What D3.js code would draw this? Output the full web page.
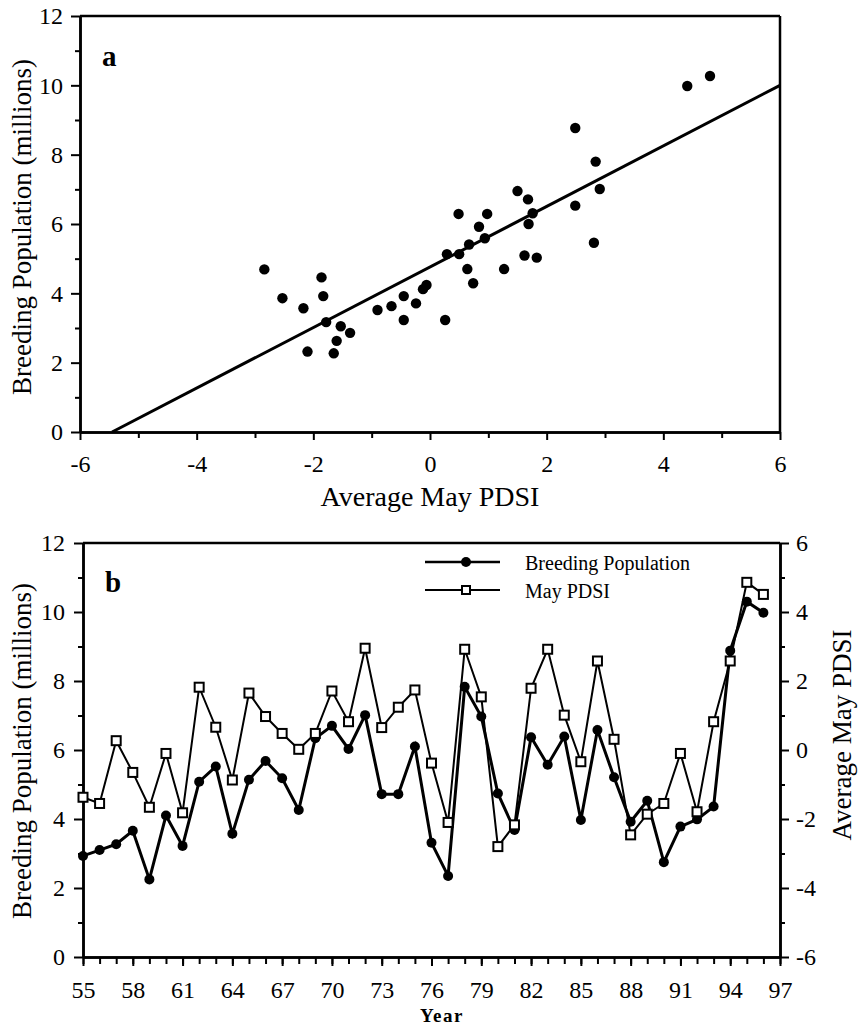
<!DOCTYPE html>
<html>
<head>
<meta charset="utf-8">
<script src="https://cdn.jsdelivr.net/npm/d3@7"></script>
<style>
  body { margin: 0; background: #fff; }
  svg text { font-family: "Liberation Serif", "DejaVu Serif", serif; fill: #000; }
  .axis path, .axis line { stroke: #000; }
</style>
</head>
<body>
<div id="chart"></div>
<script>
const width = 861, height = 1034;

// panel a: scatter of May PDSI vs breeding population
const scatterPdsi = [-2.84, -2.53, -2.17, -2.10, -1.86, -1.83, -1.78, -1.65, -1.60, -1.53, -1.37,
  -0.90, -0.66, -0.45, -0.45, -0.24, -0.12, -0.06, 0.26, 0.29, 0.50, 0.64, 0.67, 0.74, 0.94,
  0.49, 0.98, 0.84, 1.27, 1.62, 1.83, 2.81, 4.41, 4.80, 2.49, 2.84, 2.91, 1.50, 1.68, 1.76, 1.69, 2.49];
const scatterPop = [4.69, 3.86, 3.57, 2.32, 4.46, 3.92, 3.17, 2.27, 2.63, 3.05, 2.86,
  3.52, 3.63, 3.92, 3.23, 3.71, 4.12, 4.24, 3.23, 5.13, 5.13, 4.70, 5.41, 4.29, 5.59,
  6.29, 6.29, 5.92, 4.70, 5.09, 5.03, 5.46, 9.98, 10.27, 8.77, 7.80, 7.01, 6.95, 6.71, 6.31, 6.00, 6.53];
// fitted line end points
const fitPdsi = [-5.45, 6];
const fitPop = [0, 10.0];

// panel b: time series
const years = [55, 56, 57, 58, 59, 60, 61, 62, 63, 64, 65, 66, 67, 68, 69, 70, 71, 72, 73, 74, 75,
  76, 77, 78, 79, 80, 81, 82, 83, 84, 85, 86, 87, 88, 89, 90, 91, 92, 93, 94, 95, 96];
const breedingPop = [2.93, 3.10, 3.27, 3.66, 2.25, 4.10, 3.22, 5.08, 5.52, 3.57, 5.14, 5.68, 5.18, 4.26,
  6.34, 6.70, 6.03, 7.01, 4.72, 4.72, 6.10, 3.31, 2.35, 7.83, 6.97, 4.74, 3.68, 6.37, 5.57, 6.39,
  3.97, 6.58, 5.21, 3.92, 4.53, 2.75, 3.78, 3.99, 4.36, 8.88, 10.30, 9.98];
const mayPdsi = [-1.37, -1.55, 0.27, -0.65, -1.66, -0.10, -1.82, 1.82, 0.66, -0.87, 1.65, 0.97, 0.48, 0.02,
  0.48, 1.71, 0.82, 2.95, 0.65, 1.24, 1.74, -0.38, -2.10, 2.92, 1.54, -2.80, -2.17, 1.79, 2.92, 1.01,
  -0.34, 2.58, 0.31, -2.46, -1.86, -1.55, -0.10, -1.79, 0.82, 2.58, 4.86, 4.51];

const popTicks = [0, 2, 4, 6, 8, 10, 12];
const popMinor = [1, 3, 5, 7, 9, 11];
const pdsiTicksA = [-6, -4, -2, 0, 2, 4, 6];
const pdsiMinorA = [-5, -3, -1, 1, 3, 5];
const yearTicks = [55, 58, 61, 64, 67, 70, 73, 76, 79, 82, 85, 88, 91, 94, 97];
const pdsiTicksB = [-6, -4, -2, 0, 2, 4, 6];
const pdsiMinorB = [-5, -3, -1, 1, 3, 5];

// plain hyphen minus like the original
const plain = d => String(d);

const svg = d3.select("#chart")
  .append("svg")
  .attr("width", width)
  .attr("height", height);

function styleAxis(g, fontSize) {
  g.attr("class", "axis");
  g.select(".domain").attr("stroke-width", 2.5);
  g.selectAll(".tick line").attr("stroke-width", 2);
  g.selectAll(".tick text")
    .attr("font-size", fontSize)
    .attr("font-family", null);
}

// ---------- panel a ----------
const xa = d3.scaleLinear().domain([-6, 6]).range([80, 780]);
const ya = d3.scaleLinear().domain([0, 12]).range([432, 16]);

svg.append("g")
  .attr("transform", `translate(0,${ya(0)})`)
  .call(d3.axisBottom(xa).tickValues(pdsiMinorA).tickFormat("").tickSize(6).tickSizeOuter(0))
  .call(g => styleAxis(g, 24));
svg.append("g")
  .attr("transform", `translate(0,${ya(0)})`)
  .call(d3.axisBottom(xa).tickValues(pdsiTicksA).tickFormat(plain).tickSize(8).tickPadding(15).tickSizeOuter(0))
  .call(g => styleAxis(g, 24));
svg.append("g")
  .attr("transform", `translate(${xa(-6)},0)`)
  .call(d3.axisLeft(ya).tickValues(popMinor).tickFormat("").tickSize(5).tickSizeOuter(0))
  .call(g => styleAxis(g, 24));
svg.append("g")
  .attr("transform", `translate(${xa(-6)},0)`)
  .call(d3.axisLeft(ya).tickValues(popTicks).tickFormat(plain).tickSize(9).tickPadding(8).tickSizeOuter(0))
  .call(g => styleAxis(g, 24));

// box top and right
svg.append("line")
  .attr("x1", xa(-6)).attr("x2", xa(6)).attr("y1", ya(12)).attr("y2", ya(12))
  .attr("stroke", "#000").attr("stroke-width", 2.5);
svg.append("line")
  .attr("x1", xa(6)).attr("x2", xa(6)).attr("y1", ya(12)).attr("y2", ya(0))
  .attr("stroke", "#000").attr("stroke-width", 2.5);

// regression line
svg.append("line")
  .attr("x1", xa(fitPdsi[0])).attr("y1", ya(fitPop[0]))
  .attr("x2", xa(fitPdsi[1])).attr("y2", ya(fitPop[1]))
  .attr("stroke", "#000").attr("stroke-width", 3);

svg.selectAll(".dotA")
  .data(scatterPdsi)
  .enter()
  .append("circle")
  .attr("class", "dotA")
  .attr("cx", d => xa(d))
  .attr("cy", (d, i) => ya(scatterPop[i]))
  .attr("r", 5.2)
  .attr("fill", "#000");

svg.append("text")
  .attr("x", 102).attr("y", 66)
  .attr("font-size", 29).attr("font-weight", "bold")
  .text("a");

svg.append("text")
  .attr("x", 430).attr("y", 506)
  .attr("text-anchor", "middle")
  .attr("font-size", 28)
  .text("Average May PDSI");

svg.append("text")
  .attr("transform", "translate(31,227) rotate(-90)")
  .attr("text-anchor", "middle")
  .attr("font-size", 27)
  .text("Breeding Population (millions)");

// ---------- panel b ----------
const xb = d3.scaleLinear().domain([55, 97]).range([83, 780]);
const yb = d3.scaleLinear().domain([0, 12]).range([957, 543]);
const yr = d3.scaleLinear().domain([-6, 6]).range([957, 543]);

svg.append("g")
  .attr("transform", `translate(0,${yb(0)})`)
  .call(d3.axisBottom(xb).tickValues(d3.range(55, 98)).tickFormat("").tickSize(7).tickSizeOuter(0))
  .call(g => styleAxis(g, 24));
svg.append("g")
  .attr("transform", `translate(0,${yb(0)})`)
  .call(d3.axisBottom(xb).tickValues(yearTicks).tickFormat(plain).tickSize(9).tickPadding(15).tickSizeOuter(0))
  .call(g => styleAxis(g, 24));
svg.append("g")
  .attr("transform", `translate(${xb(55)},0)`)
  .call(d3.axisLeft(yb).tickValues(popMinor).tickFormat("").tickSize(5).tickSizeOuter(0))
  .call(g => styleAxis(g, 24));
svg.append("g")
  .attr("transform", `translate(${xb(55)},0)`)
  .call(d3.axisLeft(yb).tickValues(popTicks).tickFormat(plain).tickSize(9).tickPadding(9).tickSizeOuter(0))
  .call(g => styleAxis(g, 24));
svg.append("g")
  .attr("transform", `translate(${xb(97)},0)`)
  .call(d3.axisRight(yr).tickValues(pdsiMinorB).tickFormat("").tickSize(5).tickSizeOuter(0))
  .call(g => styleAxis(g, 24));
svg.append("g")
  .attr("transform", `translate(${xb(97)},0)`)
  .call(d3.axisRight(yr).tickValues(pdsiTicksB).tickFormat(plain).tickSize(9).tickPadding(7).tickSizeOuter(0))
  .call(g => styleAxis(g, 24));

svg.append("line")
  .attr("x1", xb(55)).attr("x2", xb(97)).attr("y1", yb(12)).attr("y2", yb(12))
  .attr("stroke", "#000").attr("stroke-width", 2.5);

// breeding population line + filled dots
const popLine = d3.line().x((d, i) => xb(years[i])).y(d => yb(d));
svg.append("path")
  .datum(breedingPop)
  .attr("d", popLine)
  .attr("fill", "none").attr("stroke", "#000").attr("stroke-width", 3);
svg.selectAll(".dotB")
  .data(breedingPop)
  .enter()
  .append("circle")
  .attr("class", "dotB")
  .attr("cx", (d, i) => xb(years[i]))
  .attr("cy", d => yb(d))
  .attr("r", 5)
  .attr("fill", "#000");

// May PDSI line + open squares (right axis)
const pdsiLine = d3.line().x((d, i) => xb(years[i])).y(d => yr(d));
svg.append("path")
  .datum(mayPdsi)
  .attr("d", pdsiLine)
  .attr("fill", "none").attr("stroke", "#000").attr("stroke-width", 2);
svg.selectAll(".sqB")
  .data(mayPdsi)
  .enter()
  .append("rect")
  .attr("class", "sqB")
  .attr("x", (d, i) => xb(years[i]) - 4.5)
  .attr("y", d => yr(d) - 4.5)
  .attr("width", 9).attr("height", 9)
  .attr("fill", "#fff").attr("stroke", "#000").attr("stroke-width", 2);

// legend
const legend = svg.append("g");
legend.append("line").attr("x1", 425).attr("x2", 500).attr("y1", 562).attr("y2", 562)
  .attr("stroke", "#000").attr("stroke-width", 2.5);
legend.append("circle").attr("cx", 466).attr("cy", 562).attr("r", 5).attr("fill", "#000");
legend.append("text").attr("x", 525).attr("y", 570)
  .attr("font-size", 20).text("Breeding Population");
legend.append("line").attr("x1", 425).attr("x2", 500).attr("y1", 590).attr("y2", 590)
  .attr("stroke", "#000").attr("stroke-width", 2);
legend.append("rect").attr("x", 462).attr("y", 586).attr("width", 8).attr("height", 8)
  .attr("fill", "#fff").attr("stroke", "#000").attr("stroke-width", 2);
legend.append("text").attr("x", 525).attr("y", 598)
  .attr("font-size", 20).text("May PDSI");

svg.append("text")
  .attr("x", 105).attr("y", 592)
  .attr("font-size", 29).attr("font-weight", "bold")
  .text("b");

svg.append("text")
  .attr("transform", "translate(31,751) rotate(-90)")
  .attr("text-anchor", "middle")
  .attr("font-size", 27)
  .text("Breeding Population (millions)");

svg.append("text")
  .attr("transform", "translate(851,735) rotate(-90)")
  .attr("text-anchor", "middle")
  .attr("font-size", 27)
  .text("Average May PDSI");

svg.append("text")
  .attr("x", 442).attr("y", 1022)
  .attr("text-anchor", "middle")
  .attr("font-size", 19).attr("font-weight", "bold")
  .attr("letter-spacing", 1.5)
  .text("Year");
</script>
</body>
</html>
